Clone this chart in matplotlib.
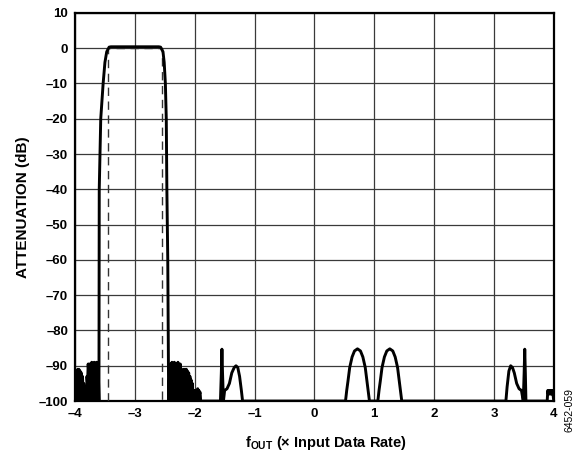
import numpy as np
import matplotlib
matplotlib.use("Agg")
import matplotlib.pyplot as plt

plt.rcParams['font.family'] = ['Liberation Sans', 'DejaVu Sans']
plt.rcParams['mathtext.fontset'] = 'custom'
plt.rcParams['mathtext.bf'] = 'Liberation Sans:bold'
plt.rcParams['mathtext.rm'] = 'Liberation Sans:bold'

# --- data (f in units of input data rate, dB) ---
noise_left_f = [-4.00, -3.995, -3.985, -3.975, -3.965, -3.955, -3.945, -3.935, -3.925,
                -3.915, -3.905, -3.895, -3.885, -3.875, -3.865, -3.855, -3.845, -3.835,
                -3.82, -3.81, -3.80, -3.79, -3.78, -3.77, -3.76, -3.75, -3.74, -3.73,
                -3.72, -3.71, -3.70, -3.69, -3.68, -3.67, -3.66, -3.65, -3.64, -3.63,
                -3.62, -3.61]
noise_left_db = [-100, -95, -97, -92, -94, -91, -93, -91, -93,
                 -91.5, -94, -92, -95, -93, -97, -95, -98, -96,
                 -100, -100, -93, -95, -89.5, -92, -89.5, -92, -89.5, -91,
                 -89, -93, -89.5, -91, -89, -92, -89.5, -91, -89, -92,
                 -89.5, -92]

pass_f = [-3.60, -3.595, -3.57, -3.53, -3.50, -3.47, -3.43, -3.40, -2.60, -2.57,
          -2.53, -2.51, -2.49, -2.475, -2.465, -2.45, -2.435]
pass_db = [-100, -40, -20, -10, -4, -1, 0.3, 0.4, 0.4, 0.3,
           -1, -4, -10, -20, -40, -60, -100]

noise_right_f = [-2.43, -2.42, -2.41, -2.40, -2.39, -2.38, -2.37, -2.36, -2.35, -2.34,
                 -2.33, -2.32, -2.31, -2.30, -2.29, -2.28, -2.27, -2.26, -2.25, -2.24,
                 -2.23, -2.22, -2.21, -2.20, -2.19, -2.18, -2.17, -2.16, -2.15, -2.14,
                 -2.13, -2.12, -2.11, -2.10, -2.09, -2.08, -2.07, -2.06, -2.05, -2.04,
                 -2.03, -2.02, -2.01, -2.00, -1.99, -1.98, -1.97, -1.96, -1.95, -1.94,
                 -1.93, -1.92, -1.91, -1.90]
noise_right_db = [-100, -92, -94, -89.5, -92, -89, -92, -89.5, -91, -89,
                  -93, -90, -92, -89.5, -94, -89, -92, -90, -93, -89.5,
                  -92, -91, -96, -93, -94, -91, -94, -91, -92, -91,
                  -93, -91.5, -93, -92, -95, -93, -95, -94, -98, -95,
                  -98, -97, -99, -97, -97, -99, -97, -98, -96.5, -99,
                  -97, -98, -97.5, -100]

feat_left_f = [-1.57, -1.555, -1.545, -1.535, -1.52, -1.50, -1.46, -1.42, -1.38,
               -1.34, -1.31, -1.28, -1.25, -1.22, -1.20]
feat_left_db = [-100, -92, -85.3, -92, -100, -97, -96.5, -95, -92,
                -90.5, -90, -90.5, -93, -97, -100]

hump1_f = [0.52, 0.54, 0.56, 0.59, 0.63, 0.67, 0.72, 0.77, 0.81, 0.85, 0.88, 0.90, 0.92]
hump1_db = [-100, -97, -94.5, -90.5, -87.5, -85.8, -85.2, -85.8, -87.5, -90.5, -94.5, -97, -100]

hump2_f = [1.06, 1.08, 1.10, 1.13, 1.17, 1.21, 1.26, 1.31, 1.35, 1.39, 1.42, 1.44, 1.46]
hump2_db = [-100, -97, -94.5, -90.5, -87.5, -85.8, -85.2, -85.8, -87.5, -90.5, -94.5, -97, -100]

feat_right_f = [3.20, 3.22, 3.25, 3.28, 3.31, 3.34, 3.38, 3.42, 3.46, 3.49, 3.505,
                3.515, 3.525, 3.535, 3.55]
feat_right_db = [-100, -96, -91.5, -90, -90.5, -92, -95, -96.5, -97, -100, -92,
                 -85.3, -92, -100, -100]

block_f = [3.89, 3.90, 3.91, 3.92, 3.93, 3.94, 3.95, 3.96, 3.97, 3.98, 4.00]
block_db = [-100, -97, -98, -97, -98, -97, -98, -97, -98, -97, -100]

ideal_f = [-3.45, -3.45, -2.55, -2.55]
ideal_db = [-100, 0, 0, -100]

xticks = [-4, -3, -2, -1, 0, 1, 2, 3, 4]
yticks = [10, 0, -10, -20, -30, -40, -50, -60, -70, -80, -90, -100]

# --- assemble the response curve ---
segments = [(noise_left_f, noise_left_db), (pass_f, pass_db),
            (noise_right_f, noise_right_db), (feat_left_f, feat_left_db),
            (hump1_f, hump1_db), (hump2_f, hump2_db),
            (feat_right_f, feat_right_db), (block_f, block_db)]
curve_f = np.concatenate([s[0] for s in segments])
curve_db = np.concatenate([s[1] for s in segments])

fig = plt.figure(figsize=(5.86, 4.61), dpi=100)
ax = fig.add_axes([0.128, 0.130, 0.817, 0.842])

ax.set_xlim(-4, 4)
ax.set_ylim(-100, 10)
ax.set_xticks(xticks)
ax.set_yticks(yticks)
ax.set_xticklabels([str(v).replace('-', '\u2013') for v in xticks],
                   fontsize=9.5, fontweight='bold')
ax.set_yticklabels([str(v).replace('-', '\u2013') for v in yticks],
                   fontsize=9.5, fontweight='bold')
ax.tick_params(length=0, pad=5)
ax.grid(True, color='#3a3a3a', linewidth=0.9)
ax.set_axisbelow(True)
for sp in ax.spines.values():
    sp.set_linewidth(1.6)
    sp.set_color('black')

ax.plot(ideal_f, ideal_db, color='#333333', linewidth=1.0, linestyle=(0, (6, 4)), zorder=3)
for nf, nd in [(noise_left_f, noise_left_db), (noise_right_f, noise_right_db)]:
    ax.fill_between(nf, nd, -100, color='black', linewidth=0, zorder=4)
ax.plot(curve_f, curve_db, color='black', linewidth=2.1, solid_joinstyle='round', zorder=5)

ax.set_ylabel('ATTENUATION (dB)', fontsize=11, fontweight='bold', labelpad=6)
ax.set_xlabel('$\\mathbf{f_{OUT}}$ (\u00d7 Input Data Rate)',
              fontsize=10.5, fontweight='bold')
ax.xaxis.set_label_coords(0.524, -0.085)

fig.text(0.972, 0.11, '6452-059', rotation=90, fontsize=7.5, ha='center', va='center')

fig.savefig('out.png', dpi=100)
